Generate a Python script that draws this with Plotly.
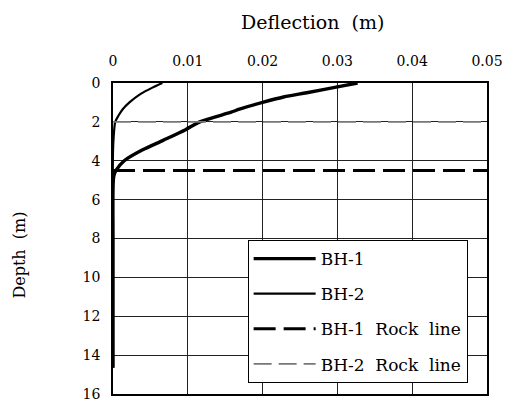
import plotly.graph_objects as go

# Data
depth_bh1 = [0, 0.2, 0.5, 0.72, 1.0, 1.35, 1.5, 2.0, 2.4, 2.95, 3.45, 4.0, 4.5, 4.8, 5.5, 8, 10, 12, 14, 14.65]
defl_bh1 = [0.0327, 0.0300, 0.0259, 0.0228, 0.0200, 0.0169, 0.0158, 0.0116, 0.0097, 0.0067, 0.0039,
            0.0015, 0.0004, 0.0001, 0, 0, 0, 0, 0, 0]

depth_bh2 = [0, 0.25, 0.56, 1.0, 1.35, 1.7, 2.0, 2.7, 3.5, 14.65]
defl_bh2 = [0.0066, 0.0052, 0.0037, 0.0022, 0.0013, 0.0007, 0.0003, 0.0001, 0, 0]

rock_x = [0, 0.05]
rock_bh1 = 4.5
rock_bh2 = 2.0

x_ticks = [0, 0.01, 0.02, 0.03, 0.04, 0.05]
x_ticktext = ["0", "0.01", "0.02", "0.03", "0.04", "0.05"]
y_ticks = [0, 2, 4, 6, 8, 10, 12, 14, 16]

FONT = "DejaVu Serif"
SP = "\u00a0\u00a0"

fig = go.Figure()
fig.add_trace(go.Scatter(x=defl_bh1, y=depth_bh1, mode="lines", name="BH-1", legendgroup="a",
                         line=dict(color="black", width=3.4, shape="spline", smoothing=0.8)))
fig.add_trace(go.Scatter(x=defl_bh2, y=depth_bh2, mode="lines", name="BH-2", legendgroup="b",
                         line=dict(color="black", width=2.2, shape="spline", smoothing=0.8)))
fig.add_trace(go.Scatter(x=rock_x, y=[rock_bh1] * len(rock_x), mode="lines",
                         name="BH-1" + SP + "Rock" + SP + "line",
                         legendgroup="c", line=dict(color="black", width=3, dash="22px,8px")))
fig.add_trace(go.Scatter(x=rock_x, y=[rock_bh2] * len(rock_x), mode="lines",
                         name="BH-2" + SP + "Rock" + SP + "line",
                         legendgroup="d", line=dict(color="#777777", width=1.8, dash="18px,7px")))

fig.update_layout(
    width=505, height=404,
    margin=dict(l=105, r=19, t=75, b=10),
    paper_bgcolor="white", plot_bgcolor="white",
    font=dict(family=FONT, size=14, color="black"),
    showlegend=True,
    legend=dict(x=0.360, y=0.495, xanchor="left", yanchor="top",
                bgcolor="white", bordercolor="black", borderwidth=1,
                font=dict(family=FONT, size=17, color="black"),
                tracegroupgap=10, traceorder="grouped", itemwidth=62),
    xaxis=dict(side="top", range=[0, 0.05], tickvals=x_ticks, ticktext=x_ticktext,
               showgrid=True, gridcolor="#222222", gridwidth=1, zeroline=False,
               showline=True, linecolor="black", linewidth=1.5, mirror=True,
               ticks="", ticklabelstandoff=10, ticklabeloverflow="allow",
               tickfont=dict(family=FONT, size=14)),
    yaxis=dict(range=[16, 0], tickvals=y_ticks,
               showgrid=True, gridcolor="#222222", gridwidth=1, zeroline=False,
               showline=True, linecolor="black", linewidth=1.5, mirror=True,
               ticks="", ticklabelstandoff=8, ticklabeloverflow="allow",
               tickfont=dict(family=FONT, size=14)),
    annotations=[
        dict(text="Deflection" + SP + "(m)", xref="paper", yref="paper", x=0.533, y=1.0,
             xanchor="center", yanchor="middle", yshift=61, showarrow=False,
             font=dict(family=FONT, size=19)),
        dict(text="Depth" + SP + "(m)", xref="paper", yref="paper", x=0.0, y=0.445,
             xanchor="center", yanchor="middle", xshift=-93, textangle=-90, showarrow=False,
             font=dict(family=FONT, size=16)),
    ],
)

fig.write_html("out.html")
